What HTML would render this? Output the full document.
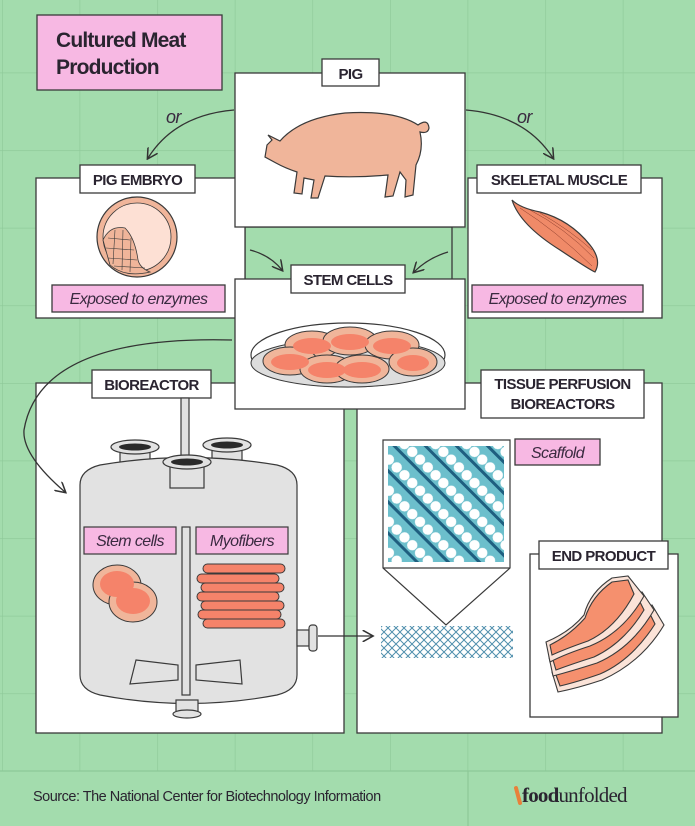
<!DOCTYPE html>
<html><head><meta charset="utf-8"><style>
html,body{margin:0;padding:0;background:#a3dcad}
svg{display:block}
text{font-family:"Liberation Sans",sans-serif;fill:#2a2430}
.lb{font-weight:bold;font-size:15px;letter-spacing:-0.6px}
.it{font-style:italic;font-size:16px;letter-spacing:-0.6px;fill:#3a2a40}
</style></head><body>
<svg width="695" height="826" viewBox="0 0 695 826" xmlns="http://www.w3.org/2000/svg">
<defs>
<pattern id="g" x="2" y="-5" width="77.6" height="77.6" patternUnits="userSpaceOnUse">
<path d="M0 0V77.6M0 0H77.6" stroke="#8dc898" stroke-width="1.2" fill="none"/>
</pattern>
<pattern id="dots" x="0" y="0" width="22" height="22" patternUnits="userSpaceOnUse" patternTransform="rotate(45)">
<rect width="22" height="22" fill="#6cbfcc"/>
<circle cx="6" cy="6" r="5.2" fill="#fff"/><circle cx="17" cy="6" r="5.2" fill="#fff"/>
<rect x="0" y="13" width="22" height="3" fill="#1f5f80"/>
</pattern>
<pattern id="mesh" width="8" height="8" patternUnits="userSpaceOnUse">
<path d="M0 0L8 8M8 0L0 8" stroke="#4f8fad" stroke-width="1"/>
</pattern>
<marker id="ah" viewBox="0 0 10 10" refX="8" refY="5" markerWidth="9" markerHeight="9" orient="auto"><path d="M0 0L9 5L0 10" fill="none" stroke="#333" stroke-width="1.3"/></marker>
</defs>
<rect width="695" height="826" fill="#a3dcad"/>
<rect width="695" height="771" fill="url(#g)"/>
<line x1="0" y1="771" x2="695" y2="771" stroke="#8dc898" stroke-width="1.2"/>
<line x1="468" y1="771" x2="468" y2="826" stroke="#8dc898" stroke-width="1.2"/>

<g stroke="#3a3a3a" stroke-width="1.3">
<rect x="37" y="15" width="185" height="75" fill="#f7b8e3"/>
<rect x="245" y="227" width="207" height="55" fill="#a3dcad"/>
<rect x="36" y="178" width="209" height="140" fill="#fff"/>
<rect x="468" y="178" width="194" height="140" fill="#fff"/>
<rect x="36" y="383" width="308" height="350" fill="#fff"/>
<rect x="357" y="383" width="305" height="350" fill="#fff"/>
<rect x="235" y="73" width="230" height="154" fill="#fff"/>
<rect x="235" y="279" width="230" height="130" fill="#fff"/>
<rect x="530" y="554" width="148" height="163" fill="#fff"/>
<rect x="322" y="59" width="57" height="27" fill="#fff"/>
<rect x="80" y="165" width="115" height="28" fill="#fff"/>
<rect x="477" y="165" width="164" height="28" fill="#fff"/>
<rect x="291" y="265" width="114" height="28" fill="#fff"/>
<rect x="92" y="370" width="119" height="28" fill="#fff"/>
<rect x="481" y="370" width="163" height="48" fill="#fff"/>
<rect x="539" y="541" width="129" height="28" fill="#fff"/>
<rect x="52" y="285" width="173" height="27" fill="#f7b8e3"/>
<rect x="472" y="285" width="171" height="27" fill="#f7b8e3"/>
<rect x="515" y="439" width="85" height="26" fill="#f7b8e3"/>
</g>

<text x="56" y="47" style="font-weight:bold;font-size:21px;letter-spacing:-0.8px">Cultured Meat</text>
<text x="56" y="74" style="font-weight:bold;font-size:21px;letter-spacing:-0.8px">Production</text>
<text class="lb" x="350.5" y="79" text-anchor="middle">PIG</text>
<text class="lb" x="137.5" y="185" text-anchor="middle">PIG EMBRYO</text>
<text class="lb" x="559" y="185" text-anchor="middle">SKELETAL MUSCLE</text>
<text class="lb" x="348" y="285" text-anchor="middle">STEM CELLS</text>
<text class="lb" x="151.5" y="390" text-anchor="middle">BIOREACTOR</text>
<text class="lb" x="562.5" y="389" text-anchor="middle">TISSUE PERFUSION</text>
<text class="lb" x="562.5" y="409" text-anchor="middle">BIOREACTORS</text>
<text class="lb" x="603.5" y="561" text-anchor="middle">END PRODUCT</text>
<text class="it" x="138.5" y="304" text-anchor="middle">Exposed to enzymes</text>
<text class="it" x="557.5" y="304" text-anchor="middle">Exposed to enzymes</text>
<text class="it" x="557.5" y="458" text-anchor="middle">Scaffold</text>
<text class="it" x="166" y="123" style="font-size:18px">or</text>
<text class="it" x="517" y="123" style="font-size:18px">or</text>

<g fill="none" stroke="#333" stroke-width="1.3" marker-end="url(#ah)">
<path d="M234 110 Q175 115 148 158"/>
<path d="M466 110 Q525 115 553 158"/>
<path d="M250 250 Q270 255 282 270"/>
<path d="M448 252 Q428 258 414 272"/>
<path d="M232 340 Q40 335 24 430 Q22 455 65 492"/>
<path d="M318 636 H372"/>
</g>

<!-- pig -->
<path d="M267 145 L272 140 L268 135 L280 141 Q300 118 345 113 Q395 110 418 125 Q428 118 429 128 Q428 134 420 132 Q424 150 416 165 L413 195 L405 197 L406 180 L400 172 L393 196 L385 197 L388 175 Q355 178 325 176 L318 198 L311 198 L314 180 L304 178 L302 194 L294 193 L297 172 Q285 168 276 163 L265 157 Z" fill="#f0b59a" stroke="#3a3a3a" stroke-width="1.2"/>

<!-- embryo -->
<circle cx="137" cy="237" r="40" fill="#f0b59a" stroke="#3a3a3a" stroke-width="1.2"/>
<circle cx="137" cy="237" r="34" fill="#fde0d4" stroke="#3a3a3a" stroke-width="0.8"/>
<path d="M103 240 Q110 225 125 228 Q135 238 138 260 Q140 268 150 272 Q125 278 110 265 Z" fill="#f0b59a" stroke="#3a3a3a" stroke-width="0.8"/>
<g fill="none" stroke="#3a3a3a" stroke-width="0.6">
<path d="M108 238 L130 240 M106 248 L134 250 M108 258 L137 260 M114 266 L145 268"/>
<path d="M115 230 L113 264 M123 230 L122 270 M131 238 L130 272"/>
</g>

<!-- muscle -->
<path d="M512 200 Q520 225 560 250 Q590 270 595 272 Q602 260 590 245 Q570 220 540 212 Q520 208 512 200 Z" fill="#f08a68" stroke="#3a3a3a" stroke-width="1.2"/>
<g stroke="#8a3a2a" stroke-width="0.5" fill="none">
<path d="M520 208 Q555 230 592 266"/><path d="M530 210 Q565 228 594 258"/><path d="M540 213 Q570 230 592 250"/>
</g>

<!-- petri -->
<ellipse cx="348" cy="355" rx="97" ry="32" fill="#fff" stroke="#3a3a3a" stroke-width="1.2"/>
<ellipse cx="348" cy="363" rx="97" ry="24" fill="#ddd" stroke="#3a3a3a" stroke-width="1"/>
<g fill="#f0b59a" stroke="#3a3a3a" stroke-width="1">
<ellipse cx="312" cy="345" rx="27" ry="14"/><ellipse cx="350" cy="341" rx="27" ry="14"/><ellipse cx="392" cy="345" rx="27" ry="14"/>
<ellipse cx="290" cy="361" rx="27" ry="14"/><ellipse cx="327" cy="369" rx="27" ry="14"/><ellipse cx="362" cy="369" rx="27" ry="14"/><ellipse cx="413" cy="362" rx="24" ry="14"/>
</g>
<g fill="#f5836a"><ellipse cx="312" cy="346" rx="19" ry="8"/><ellipse cx="350" cy="342" rx="19" ry="8"/><ellipse cx="392" cy="346" rx="19" ry="8"/><ellipse cx="290" cy="362" rx="19" ry="8"/><ellipse cx="327" cy="370" rx="19" ry="8"/><ellipse cx="362" cy="370" rx="19" ry="8"/><ellipse cx="413" cy="363" rx="16" ry="8"/></g>

<!-- bioreactor tank -->
<g stroke="#3a3a3a" stroke-width="1.2" fill="#e2e2e2">
<rect x="181" y="398" width="8" height="62"/>
<rect x="120" y="447" width="30" height="25"/><ellipse cx="135" cy="447" rx="24" ry="7"/>
<rect x="212" y="445" width="30" height="25"/><ellipse cx="227" cy="445" rx="24" ry="7"/>
<path d="M80 485 Q80 470 100 465 Q188 450 277 465 Q297 470 297 485 V675 Q297 690 277 695 Q188 712 100 695 Q80 690 80 675 Z"/>
<rect x="170" y="462" width="34" height="26"/><ellipse cx="187" cy="462" rx="24" ry="7"/>
<rect x="297" y="630" width="12" height="16"/><rect x="309" y="625" width="8" height="26" rx="3"/>
<rect x="176" y="700" width="22" height="12"/><ellipse cx="187" cy="714" rx="14" ry="4"/>
<rect x="182" y="527" width="8" height="168"/>
<path d="M136 660 L178 665 L178 680 L130 684 Z"/><path d="M196 665 L240 660 L242 684 L196 680 Z"/>
</g>
<g fill="#2a2a2a"><ellipse cx="135" cy="447" rx="16" ry="3.5"/><ellipse cx="227" cy="445" rx="16" ry="3.5"/><ellipse cx="187" cy="462" rx="16" ry="3.5"/></g>
<rect x="84" y="527" width="92" height="27" fill="#f7b8e3" stroke="#3a3a3a" stroke-width="1.2"/>
<rect x="196" y="527" width="92" height="27" fill="#f7b8e3" stroke="#3a3a3a" stroke-width="1.2"/>
<text class="it" x="130" y="546" text-anchor="middle">Stem cells</text>
<text class="it" x="242" y="546" text-anchor="middle">Myofibers</text>
<g stroke="#3a3a3a" stroke-width="1" fill="#f0b59a">
<ellipse cx="117" cy="585" rx="24" ry="20"/><ellipse cx="133" cy="602" rx="24" ry="20"/>
</g>
<ellipse cx="117" cy="584" rx="17" ry="13" fill="#f5836a"/><ellipse cx="133" cy="601" rx="17" ry="13" fill="#f5836a"/>
<g stroke="#3a3a3a" stroke-width="1" fill="#f5836a">
<rect x="203" y="564" width="82" height="9" rx="4.5"/><rect x="197" y="574" width="82" height="9" rx="4.5"/>
<rect x="201" y="583" width="83" height="9" rx="4.5"/><rect x="197" y="592" width="82" height="9" rx="4.5"/>
<rect x="201" y="601" width="83" height="9" rx="4.5"/><rect x="198" y="610" width="83" height="9" rx="4.5"/>
<rect x="203" y="619" width="82" height="9" rx="4.5"/>
</g>

<!-- scaffold -->
<path d="M383 440 H510 V568 L446 625 L383 568 Z" fill="#fff" stroke="#3a3a3a" stroke-width="1.2"/>
<line x1="383" y1="568" x2="510" y2="568" stroke="#3a3a3a" stroke-width="1.2"/>
<rect x="388" y="446" width="116" height="116" fill="url(#dots)"/>
<rect x="381" y="626" width="132" height="32" fill="url(#mesh)"/>

<!-- bacon -->
<g stroke="#3a3a3a" stroke-width="1.1">
<path d="M552 672 Q590 655 612 628 L652 605 L664 625 Q642 662 602 680 Q578 688 558 692 Z" fill="#fbe3d8"/>
<path d="M556 675 Q590 658 610 630 L648 610 L655 624 Q632 660 600 674 Q577 682 560 686 Z" fill="#f5906e"/>
<path d="M549 657 Q585 642 602 614 L642 592 L654 610 Q632 648 597 663 Q572 671 553 676 Z" fill="#fbe3d8"/>
<path d="M553 660 Q585 645 600 617 L638 598 L644 610 Q624 643 594 657 Q572 664 556 670 Z" fill="#f5906e"/>
<path d="M546 642 Q570 632 584 615 Q590 592 612 578 L628 576 L644 596 Q624 632 590 646 Q565 654 550 662 Z" fill="#fbe3d8"/>
<path d="M550 645 Q570 635 585 618 Q592 596 612 582 L628 580 L634 594 Q616 628 588 641 Q565 649 552 655 Z" fill="#f5906e"/>
</g>

<text x="33" y="801" style="font-size:14.5px;letter-spacing:-0.5px">Source: The National Center for Biotechnology Information</text>
<path d="M516 788 L520 803" stroke="#e8803a" stroke-width="4" stroke-linecap="round"/>
<text x="522" y="802" style="font-family:'Liberation Serif',serif;font-weight:bold;font-size:21px;letter-spacing:-0.8px">food<tspan style="font-weight:normal">unfolded</tspan></text>
</svg>
</body></html>
